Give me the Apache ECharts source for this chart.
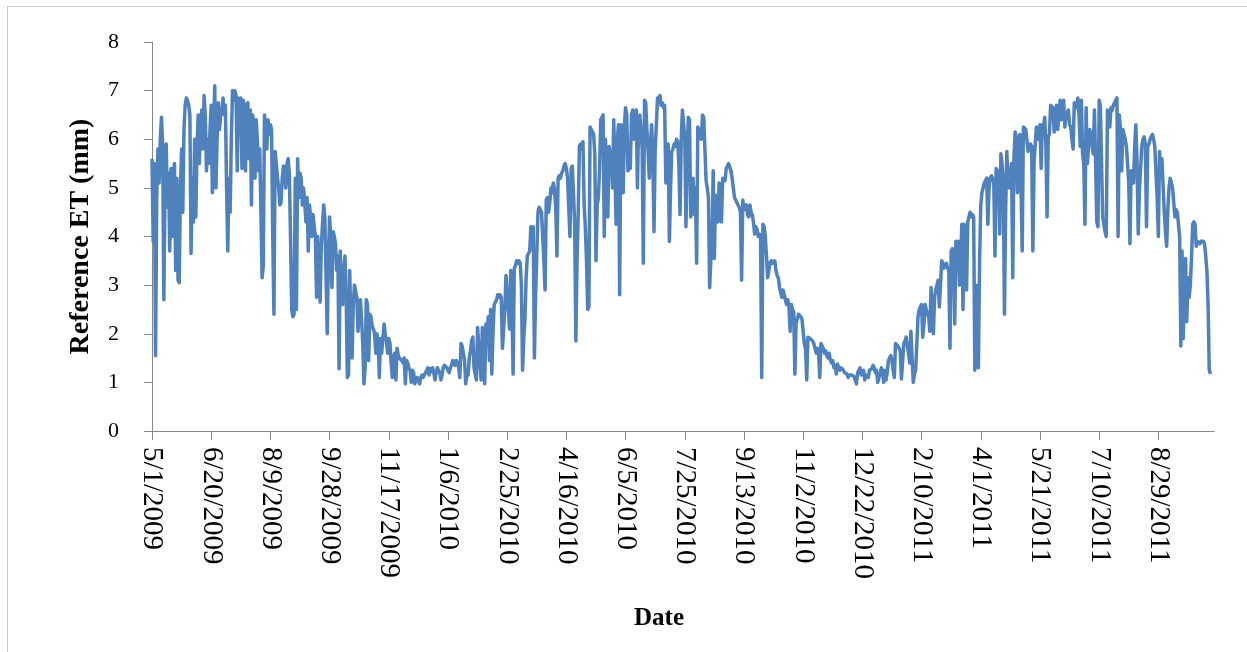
<!DOCTYPE html>
<html>
<head>
<meta charset="utf-8">
<script src="https://cdn.jsdelivr.net/npm/echarts@6/dist/echarts.min.js"></script>
<style>
  html, body { margin: 0; padding: 0; background: #fff; }
  #chart { width: 1247px; height: 652px; }
</style>
</head>
<body>
<div id="chart"></div>
<script>
// daily reference ET (mm), one value per day from 5/1/2009
var dateLabels = ['5/1/2009', '6/20/2009', '8/9/2009', '9/28/2009', '11/17/2009', '1/6/2010',
    '2/25/2010', '4/16/2010', '6/5/2010', '7/25/2010', '9/13/2010', '11/2/2010', '12/22/2010',
    '2/10/2011', '4/1/2011', '5/21/2011', '7/10/2011', '8/29/2011'];
var yTicks = [0, 1, 2, 3, 4, 5, 6, 7, 8];

// 5/1/2009 - 12/31/2009
var et2009 = [
    5.6, 3.9, 5.5, 1.55, 4.8, 5.8, 5.1, 6.0, 6.45, 5.9,
    2.7, 5.0, 5.9, 4.6, 5.3, 3.7, 5.4, 4.0, 5.3, 5.5,
    3.3, 5.2, 3.1, 3.05, 5.0, 5.8, 4.5, 6.2, 6.7, 6.85,
    6.8, 6.7, 6.5, 3.65, 5.2, 4.3, 6.0, 4.4, 5.8, 6.5,
    5.5, 6.3, 6.6, 5.8, 6.9, 6.5, 5.35, 6.0, 5.5, 6.2,
    6.7, 4.9, 6.3, 7.1, 5.0, 6.0, 6.75, 6.2, 6.5, 6.6,
    6.85, 6.5, 6.7, 5.0, 3.7, 5.2, 4.5, 6.0, 7.0, 6.8,
    7.0, 6.9, 5.35, 6.85, 6.6, 6.85, 5.4, 6.8, 6.7, 5.35,
    6.7, 6.75, 5.6, 6.6, 4.65, 6.5, 6.3, 5.2, 6.4, 6.0,
    5.35, 5.8, 4.5, 3.15, 3.4, 6.5, 6.2, 5.8, 6.4, 6.1,
    6.3, 6.2, 4.0, 2.4, 5.75, 5.5, 5.2, 5.0, 4.65, 4.7,
    5.2, 5.45, 5.3, 5.0, 5.5, 5.6, 5.3, 4.0, 2.5, 2.35,
    2.4, 5.2, 2.5, 5.6, 4.8, 5.3, 5.2, 4.65, 5.0, 4.7,
    4.3, 4.8, 3.7, 4.65, 4.4, 4.0, 4.45, 4.2, 4.0, 2.75,
    4.0, 3.2, 2.65, 3.8, 4.25, 4.65, 4.4, 4.4, 2.0, 3.5,
    4.4, 4.0, 2.95, 4.1, 4.0, 3.85, 3.3, 3.6, 1.28, 3.7,
    3.0, 2.6, 3.3, 3.6, 2.8, 1.1, 1.15, 3.3, 2.2, 1.5,
    2.6, 3.0, 3.0, 2.75, 2.05, 2.5, 2.7, 2.3, 1.8, 0.97,
    1.3, 2.7, 2.6, 1.45, 2.4, 2.35, 2.15, 2.1, 2.0, 1.6,
    2.0, 1.85, 1.1, 1.9, 1.6, 1.9, 2.2, 2.0, 1.85, 1.6,
    1.9, 1.8, 1.4, 1.1, 1.5, 1.6, 1.05, 1.7, 1.55, 1.5,
    1.5, 1.45, 1.4, 1.5, 0.97, 1.45, 1.4, 1.3, 1.25, 1.0,
    1.25, 1.2, 0.97, 1.05, 1.1, 1.05, 0.97, 1.1, 1.15, 1.1,
    1.15, 1.2, 1.25, 1.3, 1.15, 1.28, 1.22, 1.3, 1.2, 1.05,
    1.2, 1.3, 1.25, 1.2, 1.05
];

// 1/1/2010 - 12/31/2010
var et2010 = [
    1.15, 1.3, 1.35, 1.38, 1.3,
    1.25, 1.2, 1.3, 1.35, 1.45, 1.4, 1.35, 1.45, 1.4, 1.3,
    1.1, 1.8, 1.75, 1.6, 1.45, 0.97, 1.2, 1.15, 1.5, 1.65,
    1.85, 1.93, 1.3, 1.17, 1.05, 2.13, 2.1, 1.4, 1.05, 2.13,
    1.9, 0.97, 2.2, 1.9, 2.35, 1.45, 2.5, 1.17, 2.0, 2.6,
    2.65, 2.7, 2.8, 2.75, 2.8, 2.75, 1.7, 1.7, 2.5, 3.2,
    3.2, 2.5, 2.1, 3.3, 2.6, 1.17, 3.35, 3.4, 3.5, 3.45,
    3.5, 3.45, 3.0, 1.25, 1.9, 2.3, 3.15, 3.6, 3.65, 3.7,
    4.2, 4.0, 4.2, 1.5, 2.8, 3.6, 4.5, 4.6, 4.55, 4.5,
    4.5, 3.5, 2.9, 4.75, 4.8, 4.5, 4.7, 5.0, 4.9, 5.1,
    4.95, 4.6, 3.6, 5.2, 5.25, 5.2, 5.3, 5.35, 5.45, 5.5,
    5.4, 5.2, 4.6, 4.0, 5.4, 5.45, 4.9, 4.25, 1.85, 3.5,
    4.5, 5.85, 5.9, 5.8, 5.95, 4.65, 4.2, 3.5, 2.5, 2.55,
    6.25, 6.2, 6.2, 6.1, 5.7, 3.5, 4.65, 4.8, 5.35, 6.4,
    6.45, 6.5, 4.0, 6.0, 5.35, 4.4, 5.85, 5.85, 5.6, 5.0,
    6.4, 6.4, 4.25, 6.0, 6.3, 2.8, 6.3, 5.6, 4.9, 6.3,
    6.65, 6.5, 5.35, 5.5, 5.4, 6.5, 6.6, 6.0, 6.4, 6.6,
    5.0, 6.3, 6.5, 6.2, 5.8, 3.45, 6.8, 6.75, 6.2, 5.75,
    5.2, 5.9, 6.3, 5.6, 4.1, 5.8, 6.3, 6.85, 6.8, 6.9,
    6.7, 6.75, 6.65, 6.7, 5.1, 5.5, 5.9, 3.9, 5.0, 5.75,
    5.8, 5.9, 5.85, 6.0, 5.95, 5.5, 4.45, 6.0, 6.6, 6.6,
    6.05, 4.2, 5.6, 6.45, 6.4, 4.4, 5.0, 5.2, 4.45, 5.0,
    3.45, 6.25, 6.2, 6.2, 6.0, 6.5, 6.45, 6.45, 5.15, 5.0,
    4.8, 2.95, 3.5, 3.8, 5.35, 3.55, 4.85, 4.6, 4.3, 5.1,
    4.7, 4.3, 5.2, 5.2, 5.15, 5.4, 5.45, 5.5, 5.5, 5.35,
    5.2, 5.0, 4.8, 4.75, 4.75, 4.65, 4.6, 4.5, 3.1, 4.75,
    4.55, 4.6, 4.65, 4.45, 4.4, 4.65, 4.5, 4.45, 4.3, 4.05,
    4.2, 4.15, 4.0, 4.05, 4.0, 1.1, 4.25, 4.2, 4.0, 3.6,
    3.15, 3.3, 3.45, 3.5, 3.45, 3.45, 3.5, 3.3, 3.2, 3.15,
    2.95, 2.85, 2.75, 2.9, 2.8, 2.7, 2.6, 2.7, 2.55, 2.05,
    2.6, 2.5, 2.45, 1.17, 2.2, 2.3, 2.4, 2.4, 2.35, 2.3,
    2.05, 1.8, 1.7, 1.05, 1.93, 1.95, 1.9, 1.93, 1.85, 1.8,
    1.7, 1.6, 1.7, 1.65, 1.1, 1.8, 1.75, 1.7, 1.6, 1.65,
    1.55, 1.5, 1.6, 1.45, 1.4, 1.45, 1.3, 1.35, 1.17, 1.38,
    1.3, 1.25, 1.3, 1.28, 1.25, 1.2, 1.22, 1.17, 1.1, 1.15,
    1.17, 1.15, 1.15, 1.12, 1.1, 0.97, 1.2, 1.25, 1.3, 1.15,
    1.2, 1.25, 1.05, 1.15, 1.17, 1.1, 1.25, 1.25, 1.28, 1.35
];

// 1/1/2011 - 10/12/2011
var et2011 = [
    1.3, 1.2, 1.25, 1.0, 1.1, 1.17, 1.3, 1.2, 1.0, 1.25,
    1.05, 1.2, 1.45, 1.5, 1.55, 1.45, 1.25, 1.1, 1.8, 1.8,
    1.75, 1.7, 1.65, 1.07, 1.1, 1.8, 1.85, 1.93, 1.75, 1.6,
    1.4, 2.05, 1.5, 1.0, 1.17, 1.25, 1.8, 2.35, 2.5, 2.55,
    2.6, 1.93, 2.2, 2.6, 2.5, 2.4, 2.35, 2.05, 2.95, 2.4,
    2.0, 2.75, 2.9, 3.0, 3.1, 2.55, 3.0, 3.5, 3.45, 3.35,
    3.4, 3.45, 3.35, 3.3, 1.7, 3.7, 3.75, 3.6, 2.2, 3.9,
    3.85, 3.9, 3.0, 3.5, 4.25, 2.5, 4.25, 3.8, 2.9, 4.3,
    4.4, 4.5, 4.4, 4.45, 4.4, 1.25, 3.0, 1.38, 1.3, 3.5,
    4.65, 4.9, 5.0, 5.1, 5.15, 5.2, 4.25, 5.0, 5.2, 5.25,
    5.2, 5.1, 3.6, 5.4, 5.35, 5.3, 4.05, 5.7, 5.5, 5.15,
    2.4, 4.5, 5.75, 5.15, 5.0, 5.3, 5.5, 3.15, 5.6, 6.15,
    6.05, 4.9, 5.8, 6.1, 5.0, 3.7, 6.25, 6.25, 6.2, 6.2,
    5.75, 5.85, 5.9, 5.85, 3.7, 5.5, 5.9, 6.25, 6.1, 6.0,
    6.3, 5.4, 6.3, 6.25, 6.45, 5.9, 4.4, 6.05, 6.1, 6.7,
    6.7, 6.65, 6.15, 6.4, 6.7, 6.2, 6.5, 6.8, 6.4, 6.6,
    6.8, 6.25, 6.5, 6.55, 6.6, 6.3, 6.25, 6.0, 5.8, 6.75,
    6.7, 6.65, 6.85, 6.5, 5.85, 6.8, 5.7, 5.5, 4.25, 6.65,
    5.5, 5.8, 6.2, 6.1, 6.1, 5.7, 6.6, 5.5, 4.3, 4.2,
    6.8, 6.7, 6.7, 4.4, 4.4, 4.1, 4.0, 6.6, 6.4, 6.25,
    6.65, 6.6, 6.7, 6.75, 6.8, 6.85, 4.0, 6.5, 6.2, 5.35,
    6.2, 6.1, 6.0, 5.85, 5.5, 5.1, 3.85, 5.35, 5.2, 5.1,
    5.85, 6.3, 5.5, 4.05, 4.95, 5.4, 5.85, 6.0, 6.05, 5.9,
    4.2, 5.85, 5.9, 6.0, 6.05, 6.1, 6.0, 5.85, 5.3, 4.8,
    4.0, 5.75, 5.4, 5.6, 5.6, 4.5, 4.1, 3.8, 4.55, 5.0,
    5.2, 5.2, 5.0, 5.0, 4.4, 4.55, 4.5, 4.25, 4.0, 1.75,
    3.7, 1.9, 3.0, 3.55, 2.25, 3.15, 2.75, 3.0, 3.55, 4.25,
    4.3, 4.25, 3.8, 3.9, 3.9, 3.85, 3.9, 3.9, 3.9, 3.85,
    3.6, 3.3, 2.6, 1.25, 1.17
];

var etAll = et2009.concat(et2010, et2011);
var seriesData = etAll.map(function (v, i) { return [i, v]; });
var tickDays = dateLabels.map(function (d, i) { return i * 50; });

var dom = document.getElementById('chart');
var myChart = echarts.init(dom, null, { renderer: 'canvas' });

var axisGray = '#868686';
var serif = "'Liberation Serif', 'Times New Roman', serif";

var option = {
    animation: false,
    backgroundColor: '#ffffff',
    grid: { left: 152, right: 33, top: 42, bottom: 221, containLabel: false },
    xAxis: {
        type: 'value',
        min: 0,
        max: 897,
        interval: 50,
        name: 'Date',
        nameLocation: 'middle',
        nameGap: 175,
        nameTextStyle: {
            fontFamily: serif, fontSize: 25, fontWeight: 'bold', color: '#000',
            padding: [0, 48, 0, 0]
        },
        axisLine: { show: true, onZero: false, lineStyle: { color: axisGray, width: 1 } },
        axisTick: { show: true, length: 9, customValues: tickDays, lineStyle: { color: axisGray } },
        axisLabel: {
            customValues: tickDays,
            rotate: -90,
            margin: 16,
            fontFamily: serif,
            fontSize: 29,
            color: '#000',
            formatter: function (v) { return dateLabels[Math.round(v / 50)] || ''; }
        },
        splitLine: { show: false }
    },
    yAxis: {
        type: 'value',
        min: yTicks[0],
        max: yTicks[yTicks.length - 1],
        interval: 1,
        name: 'Reference ET (mm)',
        nameLocation: 'middle',
        nameGap: 57,
        nameTextStyle: { fontFamily: serif, fontSize: 28, fontWeight: 'bold', color: '#000' },
        axisLine: { show: true, lineStyle: { color: axisGray, width: 1 } },
        axisTick: { show: true, length: 8, lineStyle: { color: axisGray } },
        axisLabel: { margin: 33, fontFamily: serif, fontSize: 22, color: '#000' },
        splitLine: { show: false }
    },
    series: [{
        name: 'Reference ET',
        type: 'line',
        data: seriesData,
        showSymbol: false,
        symbol: 'none',
        lineStyle: { color: '#4F81BD', width: 3.5, join: 'round' }
    }],
    graphic: [
        { type: 'line', shape: { x1: 7.5, y1: 6.5, x2: 1247, y2: 6.5 }, style: { stroke: '#c8c8c8', lineWidth: 1 } },
        { type: 'line', shape: { x1: 7.5, y1: 6.5, x2: 7.5, y2: 652 }, style: { stroke: '#c8c8c8', lineWidth: 1 } }
    ]
};

myChart.setOption(option);
</script>
</body>
</html>
